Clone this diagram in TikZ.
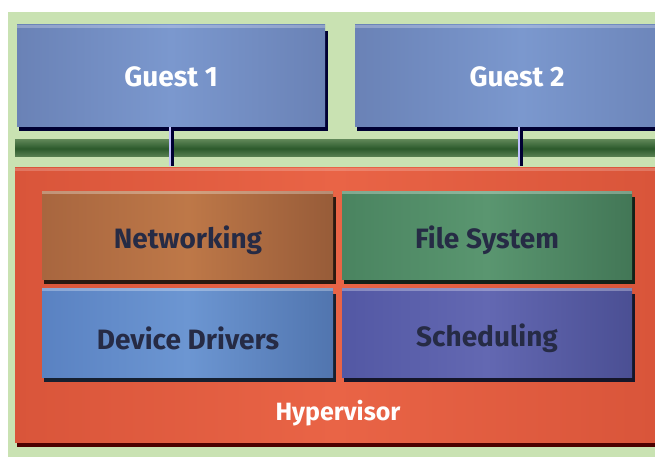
\documentclass[tikz,border=0pt]{standalone}
\usepackage{fontspec}
\setmainfont{Fira Sans}
\begin{document}
\begin{tikzpicture}[x=1pt,y=-1pt,
  lbl/.style={font=\bfseries\fontsize{28}{32}\selectfont, inner sep=0pt},
  hlbl/.style={font=\bfseries\fontsize{25}{29}\selectfont, inner sep=0pt},
  conn/.style={line width=5pt, draw=black!80!blue},
  connhi/.style={line width=1.6pt, draw=blue!25!white},
]
\definecolor{bggreen}{HTML}{C9E2B2}
\definecolor{guestA}{HTML}{6A82B6}
\definecolor{guestB}{HTML}{7B98CE}
\definecolor{bar}{HTML}{2C5A2C}
\definecolor{hypA}{HTML}{D9553A}
\definecolor{hypB}{HTML}{E96446}
\definecolor{netA}{HTML}{A8663F}
\definecolor{netB}{HTML}{BE7848}
\definecolor{fsA}{HTML}{4A8460}
\definecolor{fsB}{HTML}{5A9670}
\definecolor{ddA}{HTML}{5A82C2}
\definecolor{ddB}{HTML}{6C96D2}
\definecolor{scA}{HTML}{5358A4}
\definecolor{scB}{HTML}{6368B2}
\definecolor{inktext}{HTML}{262B45}
\useasboundingbox (0,0) rectangle (655,457);
\fill[white] (0,0) rectangle (655,457);
% background
\fill[bggreen] (8,12) rectangle (655,457);
% guests
\begin{scope}
\clip (0,0) rectangle (655,457);
\fill[black!80!blue] (19,31) rectangle (328,131);
\shade[left color=guestA, right color=guestA, middle color=guestB] (17,25) rectangle (325,127);
\fill[black!80!blue] (357,31) rectangle (690,131);
\shade[left color=guestA, right color=guestA, middle color=guestB] (355,25) rectangle (688,127);
\fill[white, opacity=0.25] (17,25) rectangle (325,28);
\fill[white, opacity=0.25] (355,25) rectangle (688,28);
\end{scope}
\node[lbl, text=white] (g1) at (171,77) {Guest 1};
\node[lbl, text=white] (g2) at (517,77) {Guest 2};
% bus
\shade[top color=bar!70!bggreen, bottom color=bar!70!bggreen, middle color=bar] (15,140) rectangle (655,157);
\coordinate (b1) at (171,166);
\coordinate (b2) at (520,166);
\coordinate (t1) at (171,127);
\coordinate (t2) at (520,127);
% hypervisor
\fill[black!70!red] (17,173) rectangle (655,447);
\shade[left color=hypA, right color=hypA, middle color=hypB] (15,168) rectangle (655,442);
\fill[white, opacity=0.2] (15,168) rectangle (655,171);
\node[hlbl, text=white] (hyp) at (338,413) {Hypervisor};
% connectors
\draw[conn] (t1) -- (b1);
\draw[connhi] ([xshift=-0.8pt]t1) -- ([xshift=-0.8pt]b1);
\draw[conn] (t2) -- (b2);
\draw[connhi] ([xshift=-0.8pt]t2) -- ([xshift=-0.8pt]b2);
% inner boxes
\fill[black!75!netA] (44,197) rectangle (336,284);
\shade[left color=netA, right color=netA!90!black, middle color=netB] (42,191) rectangle (333,279);
\fill[white, opacity=0.3] (42,191) rectangle (333,194);
\node[lbl, text=inktext] (net) at (188,240) {Networking};

\fill[black!75!fsA] (344,197) rectangle (635,284);
\shade[left color=fsA, right color=fsA!90!black, middle color=fsB] (342,191) rectangle (632,279);
\fill[white, opacity=0.3] (342,191) rectangle (632,194);
\node[lbl, text=inktext] (fs) at (487,240) {File System};

\fill[black!75!ddA] (44,294) rectangle (336,382);
\shade[left color=ddA, right color=ddA!90!black, middle color=ddB] (42,288) rectangle (333,377);
\fill[white, opacity=0.3] (42,288) rectangle (333,291);
\node[lbl, text=inktext] (dd) at (188,338) {Device Drivers};

\fill[black!75!scA] (344,294) rectangle (635,382);
\shade[left color=scA, right color=scA!90!black, middle color=scB] (342,288) rectangle (632,377);
\fill[white, opacity=0.3] (342,288) rectangle (632,291);
\node[lbl, text=inktext] (sc) at (487,338) {Scheduling};
\end{tikzpicture}
\end{document}
